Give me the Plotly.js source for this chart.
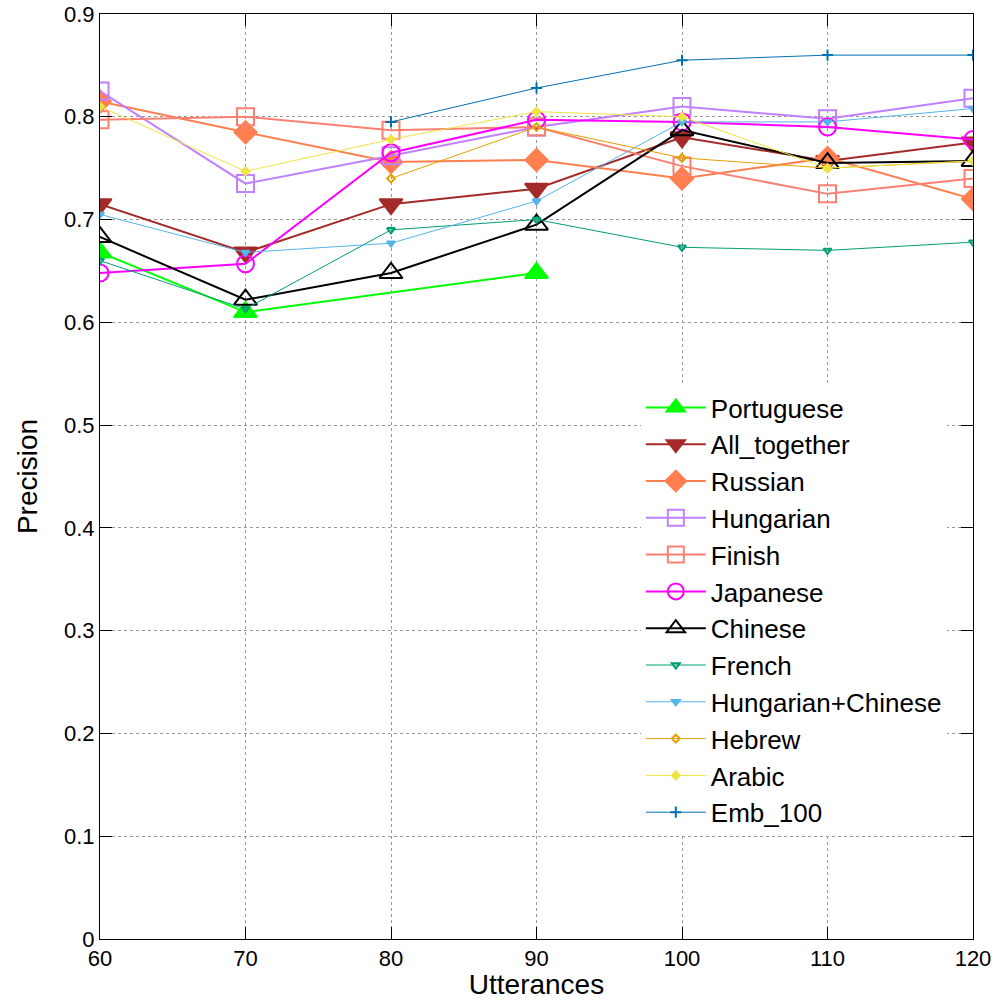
<!DOCTYPE html>
<html>
<head>
<script src="https://cdn.plot.ly/plotly-3.0.1.min.js"></script>
<style>body{margin:0;background:#fff}</style>
</head>
<body>
<div id="chart" style="width:1000px;height:1000px"></div>
<script>
var utter = [60, 70, 80, 90, 100, 110, 120];
var portugueseX = [60, 70, 90];
var portuguese = [0.668, 0.610, 0.648];
var allTogether = [0.715, 0.668, 0.715, 0.730, 0.780, 0.757, 0.775];
var russian = [0.815, 0.785, 0.756, 0.758, 0.740, 0.760, 0.720];
var hungarian = [0.825, 0.735, 0.762, 0.790, 0.810, 0.798, 0.818];
var finish = [0.797, 0.800, 0.787, 0.790, 0.752, 0.725, 0.740];
var japanese = [0.648, 0.657, 0.765, 0.797, 0.795, 0.790, 0.778];
var chinese = [0.683, 0.622, 0.648, 0.695, 0.787, 0.755, 0.757];
var french = [0.660, 0.613, 0.690, 0.700, 0.673, 0.670, 0.678];
var hungChinese = [0.705, 0.668, 0.677, 0.718, 0.795, 0.795, 0.808];
var hebrewX = [80, 90, 100, 110, 120];
var hebrew = [0.740, 0.790, 0.760, 0.750, 0.757];
var arabic = [0.810, 0.747, 0.778, 0.805, 0.800, 0.750, 0.757];
var embX = [80, 90, 100, 110, 120];
var emb100 = [0.795, 0.828, 0.855, 0.860, 0.860];

function tr(name, x, y, color, symbol, size, width) {
  return {type: 'scatter', mode: 'lines+markers', name: name, x: x, y: y,
    line: {color: color, width: width},
    marker: {color: color, symbol: symbol, size: size, line: {color: color, width: 2}}};
}

var data = [
  tr('Portuguese', portugueseX, portuguese, '#00ff00', 'triangle-up', 20, 2),
  tr('All_together', utter, allTogether, '#a52a2a', 'triangle-down', 20, 2),
  tr('Russian', utter, russian, '#ff7f50', 'diamond', 17, 2),
  tr('Hungarian', utter, hungarian, '#c080ff', 'square-open', 17, 2),
  tr('Finish', utter, finish, '#fa8072', 'square-open', 17, 2),
  tr('Japanese', utter, japanese, '#ff00ff', 'circle-open', 17, 2),
  tr('Chinese', utter, chinese, '#000000', 'triangle-up-open', 20, 2),
  tr('French', utter, french, '#009e73', 'triangle-down-open', 7, 1),
  tr('Hungarian+Chinese', utter, hungChinese, '#56b4e9', 'triangle-down', 7, 1),
  tr('Hebrew', hebrewX, hebrew, '#e69f00', 'diamond-open', 6, 1),
  tr('Arabic', utter, arabic, '#f0e442', 'diamond', 6, 1),
  tr('Emb_100', embX, emb100, '#0072b2', 'cross-thin', 8, 1)
];

var ax = {
  showline: true, mirror: 'ticks', linecolor: '#000', linewidth: 1,
  ticks: 'inside', ticklen: 12, tickcolor: '#000',
  showgrid: true, gridcolor: '#999', griddash: 'dot', gridwidth: 1,
  zeroline: false, tickfont: {size: 22, color: '#000'}
};

var layout = {
  width: 1000, height: 1000,
  margin: {l: 100, r: 27, t: 14, b: 61},
  paper_bgcolor: '#fff', plot_bgcolor: '#fff',
  font: {family: 'Liberation Sans, Arial', color: '#000'},
  xaxis: Object.assign({}, ax, {range: [60, 120], dtick: 10,
    title: {text: 'Utterances', font: {size: 28}, standoff: 0}}),
  yaxis: Object.assign({}, ax, {range: [0, 0.9], dtick: 0.1,
    title: {text: 'Precision', font: {size: 28}, standoff: 18}}),
  legend: {x: 0.97, xanchor: 'right', y: 0.6, yanchor: 'top',
    bgcolor: '#fff', font: {size: 26}, itemwidth: 60, tracegroupgap: 0},
  showlegend: true
};

Plotly.newPlot('chart', data, layout, {displayModeBar: false, staticPlot: true});
</script>
</body>
</html>
